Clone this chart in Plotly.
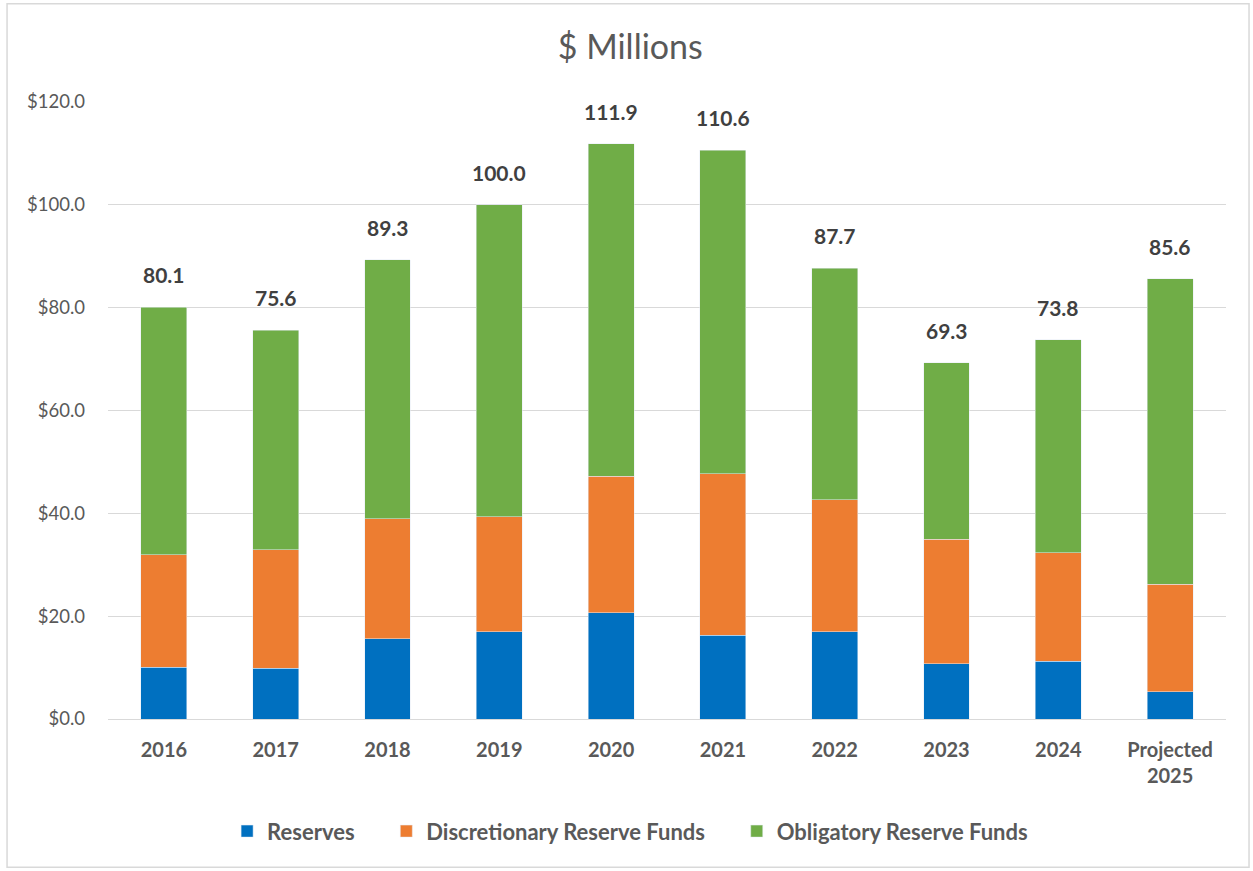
import plotly.graph_objects as go

categories = ["2016", "2017", "2018", "2019", "2020", "2021", "2022", "2023", "2024", "Projected<br>2025"]
series_names = ["Reserves", "Discretionary Reserve Funds", "Obligatory Reserve Funds"]
reserves = [10.1, 9.9, 15.6, 17.0, 20.7, 16.3, 17.0, 10.7, 11.2, 5.3]
discretionary = [21.8, 23.0, 23.3, 22.3, 26.5, 31.4, 25.6, 24.3, 21.1, 20.9]
obligatory = [48.2, 42.7, 50.4, 60.7, 64.7, 62.9, 45.1, 34.3, 41.5, 59.4]
totals = [80.1, 75.6, 89.3, 100.0, 111.9, 110.6, 87.7, 69.3, 73.8, 85.6]
y_ticks = [0, 20, 40, 60, 80, 100, 120]

FONT = "Lato"
GRAY = "#595959"
colors = ["#0070C0", "#ED7D31", "#70AD47"]
PAD = "&nbsp;" * 5

fig = go.Figure()
for name, vals, col, last in zip(series_names, [reserves, discretionary, obligatory], colors, [False, False, True]):
    fig.add_trace(go.Bar(name=name + ("" if last else PAD), x=categories, y=vals, marker_color=col))

for i, t in enumerate(totals):
    fig.add_annotation(x=i, y=t, text=f"<b>{t:.1f}</b>", showarrow=False,
                       yanchor="bottom", yshift=18,
                       font=dict(family=FONT, size=21, color="#404040"))

fig.add_shape(type="rect", xref="paper", yref="paper",
              x0=-0.0903, x1=1.0206, y0=-0.2403, y1=1.1594,
              line=dict(color="#D9D9D9", width=1.5), fillcolor="rgba(0,0,0,0)", layer="below")

fig.update_layout(
    barmode="stack",
    bargap=0.59,
    width=1253, height=871,
    margin=dict(l=108, r=27, t=101.5, b=151.5),
    paper_bgcolor="white", plot_bgcolor="white",
    title=dict(text="$ Millions", x=0.503, xanchor="center", y=0.946, yanchor="middle",
               font=dict(family=FONT, size=34, color=GRAY)),
    legend=dict(orientation="h", x=0.467, xanchor="center", y=-0.182, yanchor="middle",
                font=dict(family=FONT, size=22, color=GRAY, weight="bold"),
                itemwidth=30, tracegroupgap=0, traceorder="normal"),
    xaxis=dict(type="category", range=[-0.5, len(categories) - 0.5],
               tickfont=dict(family=FONT, size=20, color=GRAY, weight="bold"),
               showline=True, linecolor="#D9D9D9", linewidth=1, ticks="",
               ticklabelstandoff=13),
    yaxis=dict(range=[0, 120], tickvals=y_ticks, ticktext=[f"${v:.1f}" for v in y_ticks],
               tickfont=dict(family=FONT, size=18.5, color=GRAY),
               showgrid=True, gridcolor="#D9D9D9", gridwidth=1, zeroline=False,
               ticklabelstandoff=22),
)

fig.write_html("out.html")
